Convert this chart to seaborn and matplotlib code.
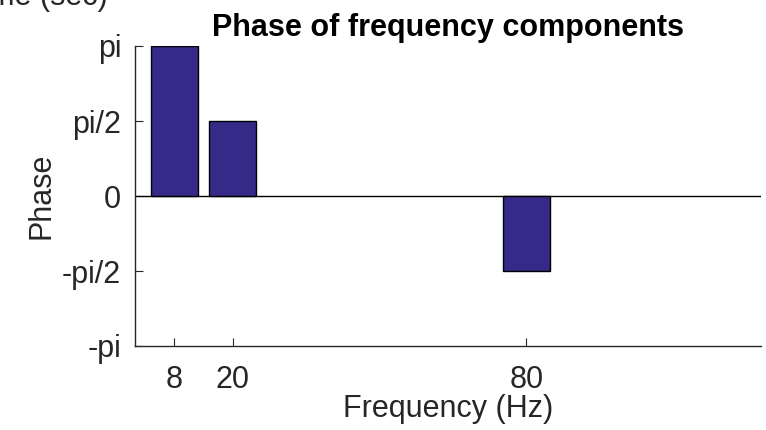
import numpy as np
import matplotlib
matplotlib.use("Agg")
import matplotlib.pyplot as plt
import seaborn as sns
import pandas as pd

# Data
freqs = [8, 20, 80]
phases = [np.pi, np.pi / 2, -np.pi / 2]
ytick_vals = [-np.pi, -np.pi / 2, 0, np.pi / 2, np.pi]
ytick_labels = ["-pi", "-pi/2", "0", "pi/2", "pi"]
xtick_vals = [8, 20, 80]

sns.set_theme(style="white")
plt.rcParams["font.family"] = ["Liberation Sans", "DejaVu Sans"]

axc = "#262626"
fig = plt.figure(figsize=(7.66, 4.30), dpi=100)
ax = fig.add_axes([135 / 766, 1 - 346 / 430, 626 / 766, 300 / 430])

df = pd.DataFrame({"freq": freqs, "phase": phases})
sns.barplot(data=df, x="freq", y="phase", native_scale=True, color="#352A87",
            saturation=1, edgecolor="black", linewidth=1.0, width=0.8, ax=ax, zorder=3)

ax.axhline(0, color="black", lw=1.0, zorder=2)
ax.set_xlim(0, 128)
ax.set_ylim(-np.pi, np.pi)
ax.set_xticks(xtick_vals)
ax.set_xticklabels([str(v) for v in xtick_vals])
ax.set_yticks(ytick_vals)
ax.set_yticklabels(ytick_labels)

for s in ["top", "right"]:
    ax.spines[s].set_visible(False)
for s in ["left", "bottom"]:
    ax.spines[s].set_color(axc)
    ax.spines[s].set_linewidth(1.0)

ax.tick_params(axis="both", direction="in", length=6, width=0.8, colors=axc,
               labelsize=22, labelcolor=axc)
ax.tick_params(axis="x", pad=14)
ax.tick_params(axis="y", pad=10)
ax.tick_params(left=True, bottom=True)

ax.set_xlabel("Frequency (Hz)", fontsize=22, color=axc, labelpad=-1)
ax.set_ylabel("Phase", fontsize=22, color=axc, labelpad=4)
ax.set_title("Phase of frequency components", fontsize=22, fontweight="bold",
             color="black", pad=7)

fig.text(108 / 766, 1 - 5 / 430, "Time (sec)", ha="right", va="baseline",
         fontsize=22, color=axc)

fig.savefig("out.png", dpi=100)
